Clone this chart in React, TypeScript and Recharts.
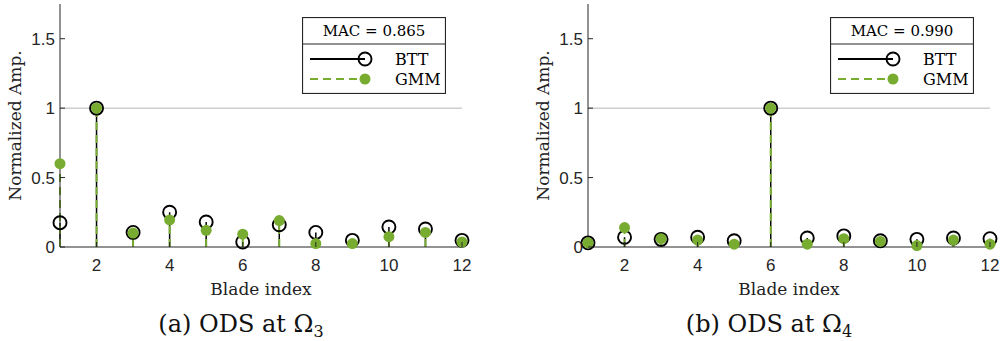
import React from "react";
import {
  ComposedChart,
  Scatter,
  XAxis,
  YAxis,
  ReferenceLine,
  Label,
} from "recharts";

const bladeIndex = [1, 2, 3, 4, 5, 6, 7, 8, 9, 10, 11, 12];
const xTicks = [2, 4, 6, 8, 10, 12];
const yTicks = [0, 0.5, 1, 1.5];

const bttOmega3 = [0.175, 1.0, 0.105, 0.25, 0.18, 0.036, 0.16, 0.105, 0.048, 0.144, 0.13, 0.048];
const gmmOmega3 = [0.6, 1.0, 0.1, 0.195, 0.12, 0.092, 0.19, 0.025, 0.025, 0.074, 0.105, 0.036];
const bttOmega4 = [0.03, 0.07, 0.055, 0.07, 0.045, 1.0, 0.065, 0.08, 0.045, 0.055, 0.065, 0.06];
const gmmOmega4 = [0.03, 0.14, 0.06, 0.05, 0.02, 1.0, 0.02, 0.06, 0.04, 0.01, 0.05, 0.02];

const GREEN = "#77AC30";
const AXIS = "#262626";
const SERIF = "'DejaVu Serif', serif";
const SANS = "'Liberation Sans', Arial, sans-serif";

const TickBottom = (p: any) => {
  const { x, y, payload } = p;
  const axisY = y - 12;
  return (
    <g>
      <line x1={x} x2={x} y1={axisY} y2={axisY - 5} stroke={AXIS} />
      <text x={x} y={y} dy="0.71em" textAnchor="middle" fontFamily={SANS} fontSize={17} fill={AXIS}>
        {payload.value}
      </text>
    </g>
  );
};

const TickTop = (p: any) => (
  <line x1={p.x} x2={p.x} y1={p.y} y2={p.y + 5} stroke={AXIS} />
);

const TickLeft = (p: any) => {
  const { x, y, payload } = p;
  const axisX = x + 5;
  return (
    <g>
      <line x1={axisX} x2={axisX + 5} y1={y} y2={y} stroke={AXIS} />
      <text x={x} y={y} dy="0.36em" textAnchor="end" fontFamily={SANS} fontSize={17} fill={AXIS}>
        {String(payload.value)}
      </text>
    </g>
  );
};

const TickRight = (p: any) => (
  <line x1={p.x} x2={p.x - 5} y1={p.y} y2={p.y} stroke={AXIS} />
);

const Legend = ({ mac }: { mac: string }) => (
  <svg width={144} height={77} style={{ position: "absolute", left: 302, top: 17 }}>
    <rect x={0.5} y={0.5} width={143} height={76} fill="#fff" stroke={AXIS} strokeWidth={1.2} />
    <line x1={0.5} x2={143.5} y1={27} y2={27} stroke={AXIS} strokeWidth={1.2} />
    <text x={72} y={14} textAnchor="middle" dominantBaseline="central" fontFamily={SERIF} fontSize={15}>
      MAC = {mac}
    </text>
    <line x1={8} x2={63} y1={42} y2={42} stroke="#000" strokeWidth={1.8} />
    <circle cx={63} cy={42} r={6.5} fill="none" stroke="#000" strokeWidth={1.9} />
    <text x={93} y={42} dominantBaseline="central" fontFamily={SERIF} fontSize={16}>BTT</text>
    <line x1={8} x2={63} y1={62} y2={62} stroke={GREEN} strokeWidth={2} strokeDasharray="8 5" />
    <circle cx={63} cy={62} r={5.5} fill={GREEN} />
    <text x={93} y={62} dominantBaseline="central" fontFamily={SERIF} fontSize={16}>GMM</text>
  </svg>
);

function Panel({ left, btt, gmm, mac, tag, sub }: any) {
  const bttData = bladeIndex.map((b, i) => ({ x: b, y: btt[i] }));
  const gmmData = bladeIndex.map((b, i) => ({ x: b, y: gmm[i] }));
  return (
    <div style={{ position: "absolute", left, top: 0, width: 482, height: 341 }}>
      <ComposedChart width={472} height={300} margin={{ top: 4, right: 10, bottom: 0, left: 0 }}>
        <XAxis
          xAxisId="b"
          type="number"
          dataKey="x"
          domain={[1, 12]}
          ticks={xTicks}
          interval={0}
          height={53}
          tickSize={0}
          tickMargin={12}
          tickLine={false}
          axisLine={{ stroke: AXIS }}
          tick={TickBottom}
        >
          <Label value="Blade index" position="insideBottom" offset={5} fontFamily={SERIF} fontSize={17} fill="#222" />
        </XAxis>
        <XAxis
          xAxisId="t"
          orientation="top"
          type="number"
          dataKey="x"
          domain={[1, 12]}
          ticks={xTicks}
          interval={0}
          height={0}
          tickSize={0}
          tickMargin={0}
          tickLine={false}
          axisLine={{ stroke: AXIS }}
          tick={TickTop}
        />
        <YAxis
          yAxisId="l"
          type="number"
          dataKey="y"
          domain={[0, 1.75]}
          ticks={yTicks}
          interval={0}
          width={60}
          tickSize={0}
          tickMargin={5}
          tickLine={false}
          axisLine={{ stroke: AXIS }}
          tick={TickLeft}
        >
          <Label
            value="Normalized Amp."
            angle={-90}
            position="insideLeft"
            offset={15}
            textAnchor="middle"
            fontFamily={SERIF}
            fontSize={17}
            fill="#222"
          />
        </YAxis>
        <YAxis
          yAxisId="r"
          orientation="right"
          type="number"
          dataKey="y"
          domain={[0, 1.75]}
          ticks={yTicks}
          interval={0}
          width={0}
          tickSize={0}
          tickMargin={0}
          tickLine={false}
          axisLine={{ stroke: AXIS }}
          tick={TickRight}
        />
        <ReferenceLine xAxisId="b" yAxisId="l" y={1} stroke="#b5b5b5" strokeWidth={1} />
        {bttData.map((d) => (
          <ReferenceLine
            key={"bs" + d.x}
            xAxisId="b"
            yAxisId="l"
            segment={[{ x: d.x, y: 0 }, { x: d.x, y: d.y }]}
            stroke="#000"
            strokeWidth={1.5}
            ifOverflow="visible"
          />
        ))}
        {gmmData.map((d) => (
          <ReferenceLine
            key={"gs" + d.x}
            xAxisId="b"
            yAxisId="l"
            segment={[{ x: d.x, y: 0 }, { x: d.x, y: d.y }]}
            stroke={GREEN}
            strokeWidth={2}
            strokeDasharray="8 5"
            ifOverflow="visible"
          />
        ))}
        <Scatter
          xAxisId="t"
          yAxisId="r"
          data={bttData}
          isAnimationActive={false}
          shape={() => <g />}
        />
        <Scatter
          xAxisId="b"
          yAxisId="l"
          data={bttData}
          isAnimationActive={false}
          shape={(p: any) => (
            <circle cx={p.cx} cy={p.cy} r={6.5} fill="none" stroke="#000" strokeWidth={1.9} />
          )}
        />
        <Scatter
          xAxisId="b"
          yAxisId="l"
          data={gmmData}
          isAnimationActive={false}
          shape={(p: any) => <circle cx={p.cx} cy={p.cy} r={5.5} fill={GREEN} />}
        />
      </ComposedChart>
      <Legend mac={mac} />
      <div
        style={{
          position: "absolute",
          left: 0,
          top: 311,
          width: 482,
          textAlign: "center",
          fontFamily: SERIF,
          fontSize: 24,
          lineHeight: "26px",
          color: "#111",
        }}
      >
        ({tag}) ODS at Ω
        <span style={{ fontSize: 16, position: "relative", top: 5 }}>{sub}</span>
      </div>
    </div>
  );
}

export default function App() {
  return (
    <div style={{ position: "absolute", left: 0, top: 0, width: 1001, height: 341, background: "#fff" }}>
      <Panel left={0} btt={bttOmega3} gmm={gmmOmega3} mac="0.865" tag="a" sub="3" />
      <Panel left={528} btt={bttOmega4} gmm={gmmOmega4} mac="0.990" tag="b" sub="4" />
    </div>
  );
}
